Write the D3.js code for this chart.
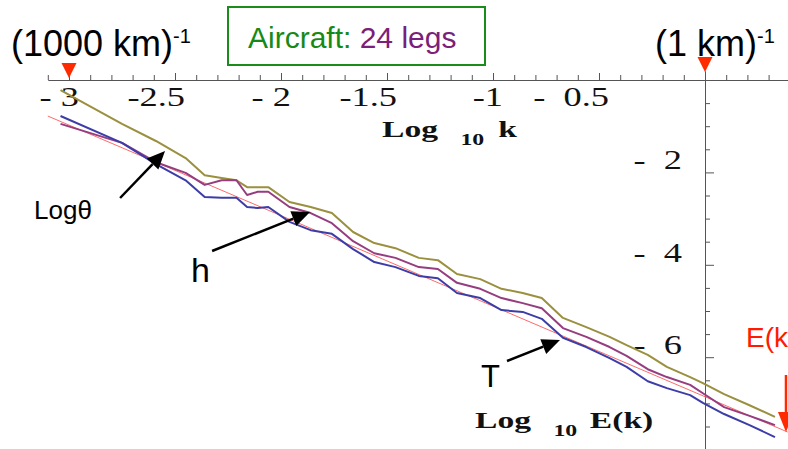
<!DOCTYPE html>
<html>
<head>
<meta charset="utf-8">
<script src="https://cdn.jsdelivr.net/npm/d3@7/dist/d3.min.js"></script>
<style>
  html, body { margin: 0; padding: 0; background: #fff; }
  svg { display: block; }
</style>
</head>
<body>
<svg id="chart" width="788" height="449"></svg>
<script>
// Wavenumber bins, log10 k (k in km^-1)
const logK = [-3.04, -2.75, -2.59, -2.45, -2.36, -2.28, -2.21, -2.16, -2.11, -2.06,
              -1.96, -1.86, -1.76, -1.66, -1.56, -1.46, -1.35, -1.26, -1.17, -1.06,
              -0.96, -0.86, -0.77, -0.67, -0.56, -0.45, -0.37, -0.27, -0.18, -0.07,
              -0.01, 0.09, 0.21, 0.33];

// log10 E(k) spectra for each aircraft variable
const logTheta = [-0.22, -0.95, -1.32, -1.69, -2.06, -2.12, -2.17, -2.32, -2.32, -2.32,
                  -2.64, -2.75, -2.88, -3.29, -3.53, -3.64, -3.85, -3.90, -4.20, -4.31,
                  -4.52, -4.61, -4.72, -5.15, -5.35, -5.56, -5.74, -5.95, -6.21, -6.43,
                  -6.56, -6.80, -7.04, -7.29];
const logH = [-0.95, -1.36, -1.78, -2.01, -2.27, -2.17, -2.17, -2.49, -2.42, -2.42,
              -2.75, -2.88, -3.10, -3.49, -3.75, -3.85, -4.05, -4.09, -4.39, -4.52,
              -4.72, -4.83, -4.94, -5.37, -5.56, -5.78, -5.97, -6.26, -6.43, -6.60,
              -6.78, -7.08, -7.27, -7.47];
const logT = [-0.78, -1.36, -1.82, -2.17, -2.53, -2.55, -2.55, -2.75, -2.77, -2.75,
              -3.07, -3.25, -3.33, -3.66, -3.94, -4.05, -4.24, -4.29, -4.61, -4.72,
              -4.98, -5.02, -5.17, -5.58, -5.78, -6.02, -6.21, -6.52, -6.67, -6.82,
              -6.99, -7.23, -7.47, -7.73];

// Straight reference power law
const refK = [-3.1, 0.39];
const refE = [-0.78, -7.62];

// Axis ticks and labels
const xMajor = [-3, -2.5, -2, -1.5, -1, -0.5];
const xTickLabels = ["-\u00a03", "-2.5", "-\u00a02", "-1.5", "-1", "-\u00a0\u00a00.5"];
const yMajor = [-2, -4, -6];
const yTickLabels = ["-\u00a0\u00a02", "-\u00a0\u00a04", "-\u00a0\u00a06"];

const colors = { theta: "#9a903f", h: "#963d80", T: "#3d3da8", ref: "#ff6a6a" };

const svg = d3.select("#chart");

const x = d3.scaleLinear().domain([-3, 0]).range([69, 705]);
const y = d3.scaleLinear().domain([0, -6]).range([80, 357.2]);

const serif = "'Liberation Serif', 'Times New Roman', serif";
const sans = "'Liberation Sans', Arial, sans-serif";

// ---- horizontal axis (log10 k) along E = 0
const xa = x.copy().domain([-3.1, 0.392]).range([x(-3.1), x(0.392)]);
const xMinor = d3.range(-31, 4).map(i => i / 10).filter(v => Math.abs(v * 2 - Math.round(v * 2)) > 1e-6);

const gx = svg.append("g").attr("transform", `translate(0,${y(0)})`);
gx.call(d3.axisTop(xa).tickValues(xMinor).tickSize(5).tickSizeOuter(0).tickFormat(""));
gx.append("g").call(d3.axisTop(xa).tickValues(xMajor.concat([0])).tickSize(7).tickSizeOuter(0).tickFormat(""))
  .select(".domain").remove();
gx.selectAll("path, line").attr("stroke", "#555").attr("stroke-width", 1);

xMajor.forEach((v, i) => {
  svg.append("g")
    .attr("transform", `translate(${x(v) + 10},106) scale(1.3,1)`)
    .append("text")
    .attr("text-anchor", "end")
    .attr("font-family", serif)
    .attr("font-size", 28)
    .attr("fill", "#111")
    .text(xTickLabels[i]);
});

// ---- vertical axis (log10 E) along k = 1 km^-1
const ya = y.copy().domain([0.2, -8]).range([y(0.2), y(-8)]);
const yMinor = d3.range(0, 16).map(i => -i / 2).filter(v => !yMajor.includes(v));

const gy = svg.append("g").attr("transform", `translate(${x(0)},0)`);
gy.call(d3.axisRight(ya).tickValues(yMinor).tickSize(5).tickSizeOuter(0).tickFormat(""));
gy.append("g").call(d3.axisRight(ya).tickValues(yMajor).tickSize(9).tickSizeOuter(0).tickFormat(""))
  .select(".domain").remove();
gy.selectAll("path, line").attr("stroke", "#555").attr("stroke-width", 1);

yMajor.forEach((v, i) => {
  svg.append("g")
    .attr("transform", `translate(682,${y(v) - 3}) scale(1.3,1)`)
    .append("text")
    .attr("text-anchor", "end")
    .attr("font-family", serif)
    .attr("font-size", 28)
    .attr("fill", "#111")
    .text(yTickLabels[i]);
});

// ---- axis titles
function axisTitle(px, py, head, tail, tailX, subX) {
  const t = svg.append("g")
    .attr("transform", `translate(${px},${py}) scale(1.4,1)`)
    .append("text")
    .attr("font-family", serif)
    .attr("font-weight", "bold")
    .attr("font-size", 24)
    .attr("fill", "#111");
  t.append("tspan").attr("x", 0).text(head);
  t.append("tspan").attr("x", subX).attr("dy", 8).attr("font-size", 17).text("10");
  t.append("tspan").attr("x", tailX).attr("dy", -8).text(tail);
}
axisTitle(382, 137, "Log", "k", 83, 56);
axisTitle(475, 428, "Log", "E(k)", 82, 56);

// ---- spectra
const line = d3.line().x(d => x(d[0])).y(d => y(d[1]));

svg.append("path")
  .datum(d3.zip(refK, refE))
  .attr("d", line)
  .attr("fill", "none")
  .attr("stroke", colors.ref)
  .attr("stroke-width", 1);

[[logTheta, colors.theta], [logH, colors.h], [logT, colors.T]].forEach(([vals, c]) => {
  svg.append("path")
    .datum(d3.zip(logK, vals))
    .attr("d", line)
    .attr("fill", "none")
    .attr("stroke", c)
    .attr("stroke-width", 2)
    .attr("stroke-linejoin", "round");
});

// ---- scale markers: (1000 km)^-1 and (1 km)^-1
function downTriangle(cx, tipY) {
  svg.append("path")
    .attr("d", `M${cx - 7.5},${tipY - 15}L${cx + 7.5},${tipY - 15}L${cx},${tipY}Z`)
    .attr("fill", "#ff2a00");
}
downTriangle(x(-3), 78);
downTriangle(x(0), 72);

function scaleLabel(px, py, main) {
  const t = svg.append("text")
    .attr("x", px).attr("y", py)
    .attr("font-family", sans)
    .attr("font-size", 36)
    .attr("fill", "#000");
  t.append("tspan").text(main);
  t.append("tspan").attr("dy", -13).attr("font-size", 20).text("-1");
}
scaleLabel(11, 56, "(1000 km)");
scaleLabel(655, 56, "(1 km)");

// ---- title box
svg.append("rect")
  .attr("x", 228).attr("y", 7).attr("width", 257).attr("height", 58)
  .attr("fill", "none").attr("stroke", "#1a8c1a").attr("stroke-width", 2);
const title = svg.append("text")
  .attr("x", 248).attr("y", 48)
  .attr("font-family", sans)
  .attr("font-size", 30);
title.append("tspan").attr("fill", "#168a16").text("Aircraft: ");
title.append("tspan").attr("fill", "#7a1f7a").text("24 legs");

// ---- annotation arrows
function arrow(k0, e0, k1, e1, color, width, headLen, headHalf) {
  const x0 = x(k0), y0 = y(e0), x1 = x(k1), y1 = y(e1);
  const ang = Math.atan2(y1 - y0, x1 - x0);
  const bx = x1 - headLen * Math.cos(ang), by = y1 - headLen * Math.sin(ang);
  const nx = -Math.sin(ang) * headHalf, ny = Math.cos(ang) * headHalf;
  svg.append("line")
    .attr("x1", x0).attr("y1", y0).attr("x2", bx).attr("y2", by)
    .attr("stroke", color).attr("stroke-width", width);
  svg.append("path")
    .attr("d", `M${x1},${y1}L${bx + nx},${by + ny}L${bx - nx},${by - ny}Z`)
    .attr("fill", color);
}
arrow(-2.759, -2.554, -2.547, -1.537, "#000", 2.5, 18, 8);
arrow(-2.325, -3.701, -1.863, -2.857, "#000", 2.5, 18, 8);
arrow(-0.934, -6.082, -0.684, -5.628, "#000", 2.5, 18, 8);
arrow(0.382, -6.385, 0.382, -7.62, "#ff2a00", 2.5, 20, 8);

function note(px, py, txt, size, color) {
  svg.append("text")
    .attr("x", px).attr("y", py)
    .attr("font-family", sans)
    .attr("font-size", size)
    .attr("fill", color)
    .text(txt);
}
note(34, 219, "Logθ", 26, "#000");
note(191, 282, "h", 34, "#000");
note(481, 387, "T", 31, "#000");
note(746, 347, "E(k", 28, "#ff1a00");
</script>
</body>
</html>
